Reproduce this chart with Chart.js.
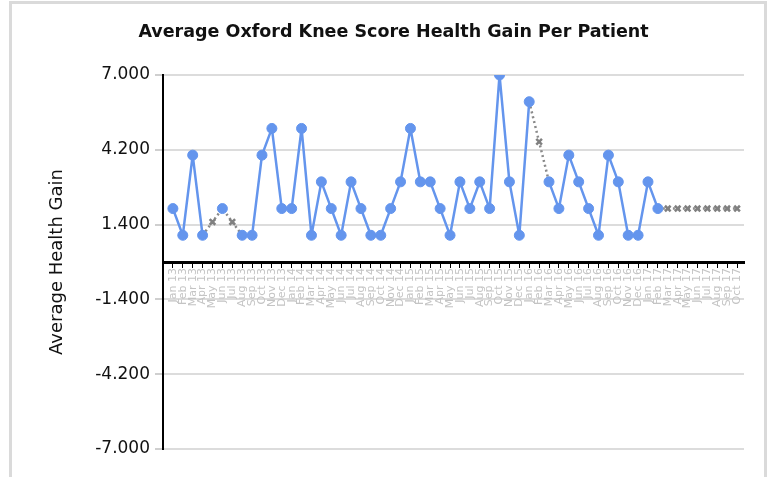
<!DOCTYPE html>
<html>
<head>
<meta charset="utf-8">
<script src="https://cdn.jsdelivr.net/npm/chart.js@4/dist/chart.umd.min.js"></script>
<style>
  html, body { margin: 0; padding: 0; background: #fff; width: 770px; height: 477px; overflow: hidden; }
  #frame { position: absolute; left: 9px; top: 1px; width: 752px; height: 600px; border: 3px solid #dadada; }
  #c { position: absolute; left: 0; top: 0; }
</style>
</head>
<body>
<div id="frame"></div>
<canvas id="c" width="770" height="477"></canvas>
<script>
// ---- data ----
const months = [
  'Jan 13','Feb 13','Mar 13','Apr 13','May 13','Jun 13','Jul 13','Aug 13','Sep 13','Oct 13','Nov 13','Dec 13',
  'Jan 14','Feb 14','Mar 14','Apr 14','May 14','Jun 14','Jul 14','Aug 14','Sep 14','Oct 14','Nov 14','Dec 14',
  'Jan 15','Feb 15','Mar 15','Apr 15','May 15','Jun 15','Jul 15','Aug 15','Sep 15','Oct 15','Nov 15','Dec 15',
  'Jan 16','Feb 16','Mar 16','Apr 16','May 16','Jun 16','Jul 16','Aug 16','Sep 16','Oct 16','Nov 16','Dec 16',
  'Jan 17','Feb 17','Mar 17','Apr 17','May 17','Jun 17','Jul 17','Aug 17','Sep 17','Oct 17'
];
const healthGain = [
  2, 1, 4, 1, null, 2, null, 1, 1, 4, 5, 2,
  2, 5, 1, 3, 2, 1, 3, 2, 1, 1, 2, 3,
  5, 3, 3, 2, 1, 3, 2, 3, 2, 7, 3, 1,
  6, null, 3, 2, 4, 3, 2, 1, 4, 3, 1, 1,
  3, 2, null, null, null, null, null, null, null, null
];
// gap-filling values shown as grey crosses (with their neighbouring real points for the dotted links)
const gapFill = [
  null, null, null, 1, 1.5, 2, 1.5, 1, null, null, null, null,
  null, null, null, null, null, null, null, null, null, null, null, null,
  null, null, null, null, null, null, null, null, null, null, null, null,
  6, 4.5, 3, null, null, null, null, null, null, null, null, null,
  null, 2, 2, 2, 2, 2, 2, 2, 2, 2
];
const yTicks = [-7, -4.2, -1.4, 1.4, 4.2, 7];

const toPoints = arr => arr.map((v, i) => ({ x: i, y: v }));

new Chart(document.getElementById('c'), {
  type: 'line',
  data: {
    datasets: [
      {
        label: 'Average Health Gain',
        data: toPoints(healthGain),
        borderColor: '#6495ED',
        backgroundColor: '#6495ED',
        borderWidth: 2.5,
        borderJoinStyle: 'round',
        borderCapStyle: 'round',
        pointRadius: 5,
        pointBorderWidth: 1,
        pointBackgroundColor: '#6495ED',
        pointBorderColor: '#6495ED',
        spanGaps: false,
        tension: 0
      },
      {
        label: 'Missing',
        data: toPoints(gapFill),
        borderColor: '#8a8a8a',
        backgroundColor: '#8a8a8a',
        borderWidth: 2.5,
        borderDash: [2, 3],
        pointStyle: 'crossRot',
        pointRadius: ctx => healthGain[ctx.dataIndex] == null ? 4 : 0,
        pointBorderWidth: 2.5,
        pointBorderColor: '#808080',
        spanGaps: false,
        tension: 0
      }
    ]
  },
  options: {
    responsive: false,
    animation: false,
    devicePixelRatio: 1,
    layout: { padding: { left: 43, right: 26, top: 0, bottom: 28 } },
    plugins: {
      legend: { display: false },
      tooltip: { enabled: false },
      title: {
        display: true,
        text: 'Average Oxford Knee Score Health Gain Per Patient',
        color: '#111',
        font: { family: 'DejaVu Sans', size: 17.5, weight: 'bold', lineHeight: 1.2 },
        padding: { top: 21.5, bottom: 32.5 }
      }
    },
    scales: {
      x: {
        type: 'linear',
        position: { y: 0 },
        min: -1,
        max: 57.7,
        afterBuildTicks: s => { s.ticks = months.map((m, i) => ({ value: i })); },
        grid: { drawOnChartArea: false, drawTicks: true, tickLength: 4, tickColor: '#000', lineWidth: 1 },
        border: { display: true, color: '#000', width: 3 },
        ticks: {
          autoSkip: false,
          minRotation: 90,
          maxRotation: 90,
          padding: 2,
          color: '#c4c4c4',
          font: { family: 'DejaVu Sans', size: 11 },
          callback: v => months[v] ?? ''
        }
      },
      y: {
        min: -7,
        max: 7,
        afterBuildTicks: s => { s.ticks = yTicks.map(v => ({ value: v })); },
        afterFit: s => { s.width = 120; },
        grid: { color: '#dcdcdc', lineWidth: 2, drawTicks: true, tickLength: 8, tickColor: '#cfcfcf' },
        border: { display: true, color: '#000', width: 2 },
        ticks: {
          padding: 5,
          color: '#111',
          font: { family: 'DejaVu Sans', size: 17 },
          callback: v => Number(v).toFixed(3)
        },
        title: {
          display: true,
          text: 'Average Health Gain',
          color: '#111',
          font: { family: 'DejaVu Sans', size: 18, lineHeight: 1.2 },
          padding: { top: 4, bottom: 4 }
        }
      }
    }
  }
});
</script>
</body>
</html>
